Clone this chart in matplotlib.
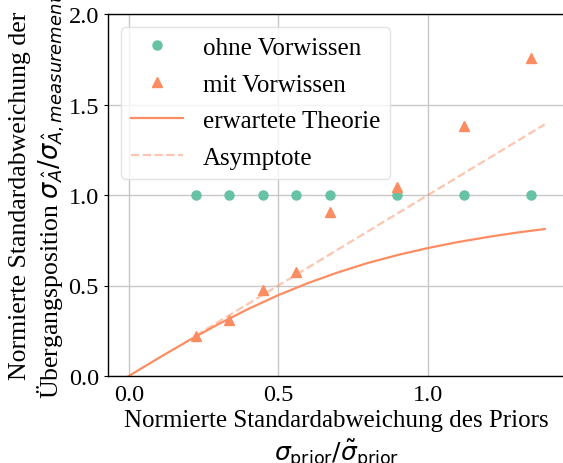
import matplotlib
matplotlib.use("Agg")
import matplotlib.pyplot as plt

plt.rcParams['font.family'] = ['Liberation Serif', 'DejaVu Serif']
plt.rcParams['mathtext.fontset'] = 'dejavusans'

# data
x_prior = [0.224, 0.336, 0.448, 0.560, 0.672, 0.896, 1.120, 1.344]
ohne_vorwissen = [1.0, 1.0, 1.0, 1.0, 1.0, 1.0, 1.0, 1.0]
mit_vorwissen = [0.22, 0.31, 0.477, 0.573, 0.908, 1.045, 1.383, 1.757]

theory_x = [0.0, 0.1, 0.2, 0.3, 0.4, 0.5, 0.6, 0.7, 0.8, 0.9, 1.0, 1.1, 1.2, 1.3, 1.39]
theory_y = [0.0, 0.0995, 0.196, 0.287, 0.371, 0.447, 0.514, 0.573, 0.625, 0.669,
            0.707, 0.740, 0.768, 0.793, 0.812]

asym_x = [0.224, 1.39]
asym_y = [0.224, 1.39]

green = '#66c2a5'
orange = '#fc8d62'

fig = plt.figure(figsize=(5.63, 4.64), dpi=100)
ax = fig.add_axes([108/563, 87/464, (565.5-108)/563, 362/464])

ax.plot(x_prior, ohne_vorwissen, 'o', color=green, ms=6.5, label='ohne Vorwissen', zorder=3)
ax.plot(x_prior, mit_vorwissen, '^', color=orange, ms=6.5, label='mit Vorwissen', zorder=3)
ax.plot(theory_x, theory_y, '-', color=orange, lw=1.6, label='erwartete Theorie', zorder=2)
ax.plot(asym_x, asym_y, '--', color=orange, alpha=0.5, lw=1.6, label='Asymptote', zorder=2)

ax.set_xlim(-0.0695, 1.4595)
ax.set_ylim(0, 2.0)
ax.set_xticks([0.0, 0.5, 1.0])
ax.set_yticks([0.0, 0.5, 1.0, 1.5, 2.0])
ax.tick_params(axis='both', labelsize=17.5, length=3, width=0.8)
ax.tick_params(axis='x', length=0, pad=6)
ax.grid(True, color='#c8c8c8', lw=1)
ax.set_axisbelow(True)
for s in ax.spines.values():
    s.set_color('black')
    s.set_linewidth(1)

ax.set_xlabel('Normierte Standardabweichung des Priors\n'
              r'$\sigma_{\mathrm{prior}}/\tilde{\sigma}_{\mathrm{prior}}$', fontsize=18, labelpad=3)
ax.set_ylabel('Normierte Standardabweichung der\n'
              r'Übergangsposition $\sigma_{\hat{A}}/\sigma_{\hat{A}, measurement}$', fontsize=18.5, labelpad=1)

leg = ax.legend(loc='upper left', fontsize=18, frameon=True, handlelength=2.1,
                borderpad=0.4, labelspacing=0.56, handletextpad=0.8)
leg.get_frame().set_edgecolor('#dddddd')
leg.get_frame().set_alpha(0.8)

fig.savefig('out.png', dpi=100)
